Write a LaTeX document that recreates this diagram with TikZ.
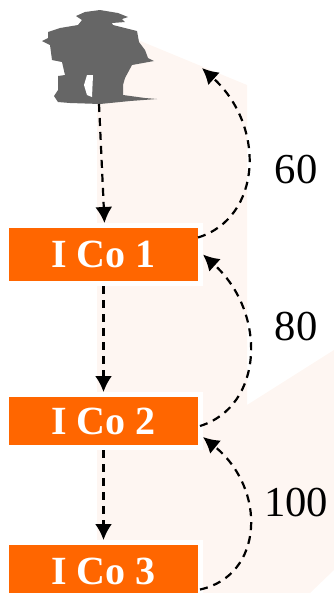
\documentclass[tikz,border=0pt]{standalone}
\usepackage{fontspec}
\setmainfont{Liberation Serif}
\usetikzlibrary{arrows.meta}
\newcommand\px{0.75pt}
\definecolor{boxorange}{HTML}{FF6600}
\definecolor{backpink}{HTML}{FEF6F2}
\definecolor{figgray}{HTML}{666666}

\begin{document}
\begin{tikzpicture}[
      x=\px,
      y=-\px,
      ico/.style = {
        draw=white,
        fill=boxorange,
        line width=5*\px,
        minimum width=194*\px,
        minimum height=58*\px,
        inner sep=0pt,
        text=white,
        font=\fontsize{30}{30}\selectfont\bfseries,
      },
      num/.style = {
        font=\fontsize{32}{32}\selectfont,
        inner sep=0pt,
      },
      arr/.style = {
        draw=black,
        line width=2.2*\px,
        dash pattern=on 8*\px off 6*\px,
        -{Latex[length=16*\px,width=17*\px]},
      },
    ]
      \useasboundingbox (0, 0) rectangle (334, 593);
      \fill[backpink] (138, 40) -- (247, 85) -- (247, 405) -- (334, 350) -- (334, 570) -- (310, 593) -- (97, 593) -- (97, 100) -- cycle;

      \fill[figgray] (76, 16) -- (85, 12) -- (100, 10) -- (118, 13) -- (128, 17) -- (122, 19) -- (125, 22) -- (112, 23) -- (113, 25)
        -- (137, 31) -- (139, 42) -- (145, 50) -- (148, 58) -- (154, 61) -- (132, 65) -- (125, 78) -- (123, 85) -- (123, 95)
        -- (145, 98) -- (157, 99) -- (130, 101) -- (100, 104) -- (70, 103) -- (58, 102) -- (54, 96) -- (58, 90) -- (58, 76)
        -- (65, 75) -- (62, 62) -- (52, 60) -- (50, 45) -- (42, 41) -- (48, 38) -- (48, 32) -- (60, 28) -- (78, 25) -- (82, 20) -- cycle;
      \fill[white] (87, 75) -- (93, 75) -- (92, 97) -- (87, 95) -- (84, 85) -- cycle;

      \coordinate (user) at (99, 104);
      \node[ico] (ico1) at (103.5, 254.5) {I Co 1};
      \node[ico, minimum height=53*\px] (ico2) at (103.5, 421) {I Co 2};
      \node[ico] (ico3) at (103.5, 571.5) {I Co 3};
      \coordinate (usertop) at (202, 68);

      \node[num] (n60) at (296, 170) {60};
      \node[num] (n80) at (296, 327) {80};
      \node[num] (n100) at (296, 503) {100};

      \draw[arr] (user) -- ([xshift=1*\px]ico1.north);
      \draw[arr] (ico1.south) -- (ico2.north);
      \draw[arr] (ico2.south) -- (ico3.north);
      \draw[arr] ([xshift=-5*\px,yshift=17*\px]ico1.east) .. controls +(64, -20) and +(64, 58) .. (usertop);
      \draw[arr] ([xshift=-3*\px,yshift=-5*\px]ico2.east) .. controls +(64, -20) and +(64, 58) .. (ico1.east);
      \draw[arr] ([xshift=-3*\px,yshift=-18*\px]ico3.east) .. controls +(64, -14) and +(64, 52) .. ([yshift=-16*\px]ico2.east);
    \end{tikzpicture}
\end{document}
